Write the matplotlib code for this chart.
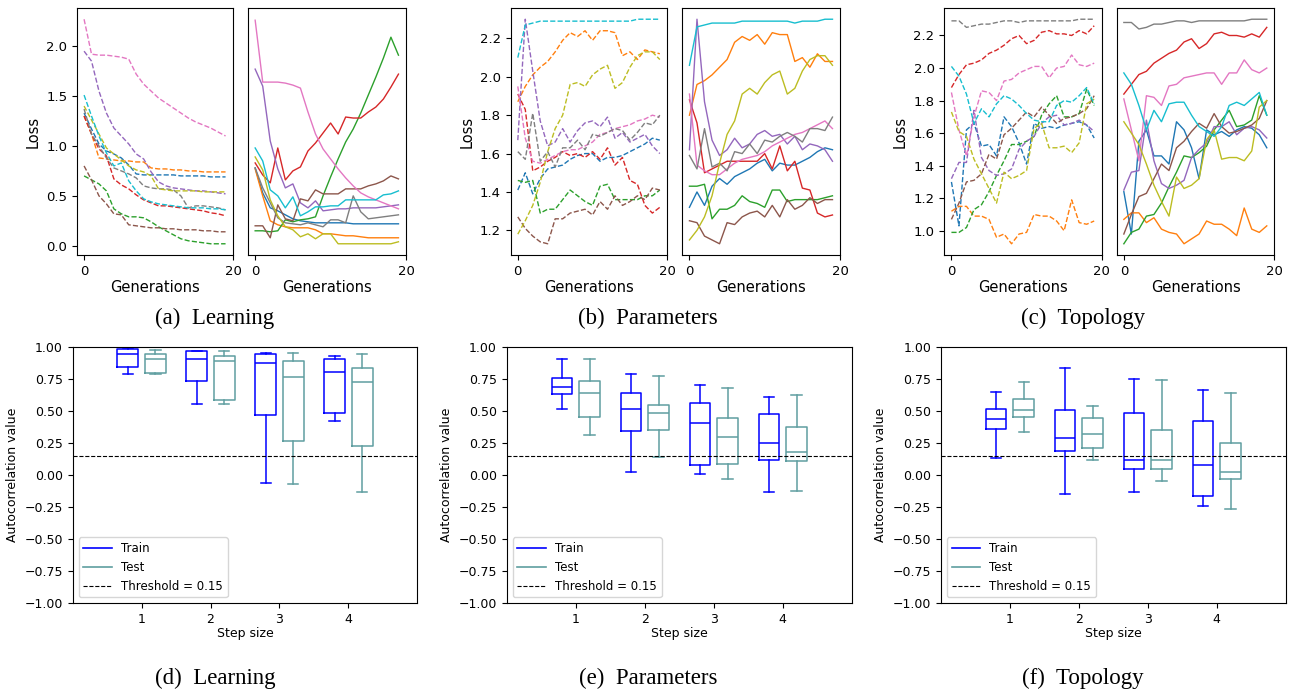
import matplotlib
matplotlib.use("Agg")
import matplotlib.pyplot as plt
from matplotlib.lines import Line2D
import numpy as np

# ---------------- data: top row (loss per generation, 10 runs each) ----------------
generations = list(range(20))
run_colors = ["C0", "C1", "C2", "C3", "C4", "C5", "C6", "C7", "C8", "C9"]

learning_dashed = [
    [1.33,1.17,1.02,0.95,0.92,0.88,0.81,0.72,0.71,0.71,0.71,0.71,0.71,0.70,0.70,0.70,0.70,0.69,0.69,0.69],
    [1.30,1.12,0.88,0.87,0.86,0.85,0.85,0.84,0.84,0.78,0.77,0.77,0.76,0.76,0.75,0.75,0.74,0.74,0.74,0.74],
    [0.70,0.66,0.62,0.55,0.37,0.32,0.29,0.29,0.28,0.24,0.19,0.15,0.11,0.07,0.05,0.04,0.03,0.02,0.02,0.02],
    [1.30,1.12,0.97,0.90,0.67,0.61,0.57,0.51,0.46,0.43,0.40,0.40,0.39,0.38,0.37,0.36,0.35,0.33,0.32,0.30],
    [1.95,1.85,1.55,1.33,1.18,1.10,1.02,0.92,0.87,0.74,0.64,0.60,0.58,0.57,0.56,0.55,0.55,0.54,0.53,0.52],
    [0.80,0.66,0.50,0.42,0.32,0.31,0.21,0.20,0.19,0.18,0.18,0.17,0.17,0.16,0.16,0.16,0.15,0.15,0.14,0.14],
    [2.27,1.92,1.91,1.91,1.90,1.89,1.87,1.72,1.62,1.55,1.48,1.43,1.38,1.33,1.28,1.24,1.21,1.18,1.14,1.10],
    [1.37,1.12,1.00,0.88,0.78,0.75,0.72,0.68,0.60,0.58,0.57,0.57,0.56,0.50,0.38,0.40,0.40,0.39,0.38,0.36],
    [1.40,1.26,1.12,0.98,0.92,0.86,0.80,0.76,0.74,0.70,0.57,0.56,0.55,0.55,0.55,0.55,0.54,0.54,0.54,0.54],
    [1.51,1.30,1.10,0.93,0.80,0.83,0.65,0.55,0.47,0.44,0.42,0.41,0.40,0.39,0.38,0.38,0.38,0.37,0.37,0.36],
]
learning_solid = [
    [0.78,0.53,0.38,0.35,0.31,0.27,0.25,0.24,0.23,0.23,0.23,0.23,0.23,0.22,0.22,0.22,0.22,0.22,0.22,0.22],
    [0.77,0.50,0.25,0.21,0.19,0.18,0.18,0.18,0.16,0.12,0.12,0.11,0.10,0.10,0.09,0.08,0.08,0.08,0.08,0.08],
    [0.15,0.15,0.14,0.15,0.26,0.24,0.26,0.27,0.29,0.50,0.69,0.87,1.04,1.17,1.33,1.51,1.69,1.88,2.09,1.91],
    [0.83,0.71,0.63,0.98,0.66,0.75,0.79,0.95,1.03,1.13,1.23,1.12,1.29,1.28,1.28,1.34,1.39,1.47,1.59,1.72],
    [1.77,1.60,1.05,0.77,0.58,0.62,0.43,0.38,0.45,0.35,0.36,0.37,0.37,0.38,0.38,0.38,0.38,0.39,0.40,0.41],
    [0.20,0.20,0.08,0.41,0.27,0.25,0.47,0.45,0.56,0.52,0.52,0.52,0.57,0.57,0.57,0.60,0.62,0.65,0.70,0.67],
    [2.26,1.64,1.64,1.64,1.63,1.61,1.58,1.34,1.12,0.97,0.87,0.77,0.68,0.60,0.53,0.49,0.46,0.43,0.40,0.37],
    [0.78,0.58,0.43,0.28,0.23,0.22,0.21,0.23,0.21,0.19,0.26,0.26,0.23,0.50,0.34,0.27,0.28,0.29,0.30,0.31],
    [0.89,0.76,0.46,0.30,0.19,0.16,0.09,0.12,0.07,0.12,0.12,0.02,0.02,0.02,0.02,0.02,0.02,0.02,0.02,0.04],
    [0.98,0.85,0.56,0.50,0.38,0.49,0.30,0.34,0.39,0.39,0.40,0.40,0.46,0.46,0.46,0.46,0.46,0.51,0.52,0.55],
]
parameters_dashed = [
    [1.41,1.50,1.39,1.47,1.52,1.53,1.54,1.57,1.59,1.60,1.60,1.56,1.58,1.58,1.59,1.61,1.63,1.65,1.68,1.67],
    [1.87,1.95,2.01,2.05,2.08,2.13,2.19,2.23,2.21,2.24,2.19,2.24,2.24,2.23,2.11,2.13,2.09,2.14,2.13,2.12],
    [1.46,1.45,1.46,1.29,1.31,1.31,1.36,1.41,1.38,1.35,1.33,1.43,1.44,1.36,1.36,1.36,1.36,1.38,1.38,1.41],
    [1.91,1.83,1.51,1.53,1.56,1.58,1.61,1.59,1.60,1.58,1.61,1.57,1.63,1.54,1.58,1.46,1.44,1.33,1.29,1.32],
    [1.67,2.30,2.03,1.77,1.64,1.66,1.73,1.66,1.72,1.76,1.77,1.74,1.79,1.68,1.71,1.66,1.68,1.70,1.64,1.60],
    [1.27,1.21,1.17,1.14,1.13,1.26,1.26,1.29,1.30,1.31,1.28,1.35,1.31,1.38,1.33,1.35,1.38,1.36,1.42,1.41],
    [1.95,1.68,1.56,1.55,1.57,1.59,1.61,1.62,1.62,1.64,1.66,1.70,1.71,1.73,1.74,1.75,1.77,1.78,1.80,1.79],
    [1.61,1.57,1.81,1.56,1.61,1.53,1.63,1.63,1.67,1.62,1.70,1.69,1.71,1.73,1.72,1.67,1.71,1.76,1.75,1.80],
    [1.18,1.25,1.33,1.45,1.61,1.73,1.80,1.96,1.97,1.95,2.01,2.04,2.06,1.94,1.97,2.05,2.11,2.13,2.13,2.09],
    [2.10,2.27,2.28,2.29,2.29,2.29,2.29,2.29,2.29,2.29,2.29,2.29,2.29,2.29,2.29,2.29,2.30,2.30,2.30,2.30],
]
parameters_solid = [
    [1.32,1.40,1.33,1.43,1.47,1.44,1.48,1.50,1.52,1.55,1.57,1.51,1.55,1.54,1.54,1.56,1.58,1.61,1.63,1.62],
    [1.80,1.96,1.98,2.01,2.05,2.09,2.18,2.21,2.19,2.22,2.17,2.23,2.22,2.22,2.08,2.10,2.05,2.12,2.08,2.08],
    [1.43,1.43,1.44,1.26,1.31,1.31,1.33,1.38,1.35,1.34,1.32,1.41,1.41,1.35,1.36,1.36,1.36,1.36,1.37,1.38],
    [1.88,1.76,1.50,1.52,1.54,1.56,1.56,1.56,1.56,1.56,1.60,1.52,1.64,1.51,1.56,1.42,1.41,1.29,1.27,1.28],
    [1.62,2.30,1.87,1.67,1.59,1.62,1.68,1.63,1.65,1.70,1.72,1.69,1.70,1.65,1.69,1.62,1.65,1.64,1.62,1.56],
    [1.25,1.24,1.17,1.15,1.13,1.24,1.23,1.27,1.29,1.30,1.27,1.33,1.27,1.36,1.31,1.33,1.37,1.34,1.36,1.36],
    [1.91,1.54,1.51,1.49,1.49,1.52,1.55,1.57,1.58,1.59,1.61,1.64,1.66,1.68,1.70,1.71,1.73,1.75,1.77,1.73],
    [1.59,1.52,1.73,1.53,1.55,1.51,1.61,1.60,1.65,1.60,1.67,1.66,1.69,1.71,1.69,1.66,1.73,1.73,1.72,1.79],
    [1.15,1.20,1.27,1.38,1.55,1.70,1.77,1.91,1.94,1.91,1.97,2.01,2.03,1.91,1.94,2.03,2.09,2.11,2.11,2.06],
    [2.06,2.26,2.27,2.28,2.28,2.28,2.28,2.29,2.29,2.29,2.29,2.29,2.29,2.29,2.28,2.29,2.29,2.29,2.30,2.30],
]
topology_dashed = [
    [1.30,1.03,1.62,1.66,1.52,1.53,1.46,1.70,1.64,1.54,1.41,1.66,1.63,1.64,1.63,1.65,1.66,1.67,1.65,1.57],
    [1.12,1.15,1.15,1.09,1.09,1.07,0.96,0.98,0.92,0.98,0.99,1.10,1.09,1.09,1.06,1.00,1.19,1.05,1.04,1.06],
    [0.99,0.99,1.02,1.13,1.16,1.24,1.34,1.43,1.53,1.53,1.55,1.58,1.71,1.78,1.83,1.70,1.70,1.72,1.87,1.77],
    [1.88,1.96,2.02,2.03,2.05,2.09,2.11,2.14,2.18,2.20,2.15,2.17,2.22,2.23,2.21,2.21,2.20,2.23,2.21,2.26],
    [1.32,1.42,1.42,1.74,1.45,1.37,1.34,1.35,1.38,1.50,1.55,1.58,1.66,1.70,1.71,1.65,1.66,1.68,1.65,1.61],
    [1.07,1.17,1.30,1.31,1.35,1.47,1.44,1.59,1.63,1.68,1.73,1.70,1.76,1.71,1.66,1.69,1.70,1.72,1.75,1.83],
    [1.85,1.62,1.46,1.70,1.86,1.85,1.80,1.92,1.93,1.97,1.99,2.01,2.01,1.94,2.00,2.01,2.08,2.02,2.01,2.03],
    [2.29,2.29,2.25,2.26,2.27,2.27,2.28,2.29,2.29,2.28,2.29,2.29,2.29,2.29,2.29,2.29,2.29,2.30,2.30,2.30],
    [1.73,1.61,1.58,1.44,1.35,1.26,1.17,1.36,1.32,1.34,1.37,1.63,1.66,1.51,1.51,1.52,1.48,1.54,1.78,1.81],
    [2.01,1.95,1.84,1.66,1.75,1.70,1.78,1.83,1.81,1.77,1.72,1.68,1.67,1.67,1.77,1.80,1.79,1.83,1.88,1.78],
]
topology_solid = [
    [1.24,0.98,1.55,1.62,1.46,1.46,1.41,1.67,1.62,1.51,1.32,1.62,1.59,1.61,1.58,1.62,1.64,1.63,1.59,1.51],
    [1.07,1.11,1.11,1.05,1.08,1.01,0.99,0.98,0.92,0.95,0.98,1.06,1.04,1.04,1.01,0.97,1.14,1.01,0.99,1.03],
    [0.92,0.99,1.01,1.09,1.10,1.17,1.27,1.36,1.46,1.45,1.48,1.52,1.62,1.68,1.74,1.64,1.65,1.68,1.83,1.71],
    [1.84,1.90,1.96,1.98,2.03,2.06,2.09,2.11,2.16,2.18,2.12,2.15,2.21,2.22,2.20,2.20,2.19,2.21,2.19,2.25],
    [1.25,1.36,1.37,1.68,1.43,1.29,1.26,1.28,1.31,1.45,1.50,1.54,1.64,1.64,1.67,1.59,1.63,1.64,1.62,1.57],
    [0.98,1.10,1.21,1.23,1.32,1.41,1.37,1.51,1.55,1.61,1.66,1.63,1.72,1.64,1.60,1.61,1.63,1.65,1.69,1.80],
    [1.81,1.62,1.43,1.83,1.82,1.77,1.89,1.90,1.94,1.95,1.96,1.97,1.97,1.90,1.97,1.97,2.05,1.99,1.97,2.00],
    [2.28,2.28,2.24,2.25,2.27,2.27,2.28,2.29,2.29,2.28,2.29,2.29,2.29,2.29,2.29,2.29,2.29,2.30,2.30,2.30],
    [1.67,1.60,1.53,1.41,1.28,1.18,1.09,1.33,1.26,1.28,1.32,1.56,1.62,1.44,1.45,1.45,1.43,1.49,1.76,1.80],
    [1.97,1.90,1.77,1.62,1.74,1.67,1.78,1.79,1.79,1.71,1.64,1.61,1.58,1.64,1.77,1.79,1.77,1.81,1.85,1.71],
]

# ---------------- data: bottom row (autocorrelation box statistics) ----------------
step_sizes = [1, 2, 3, 4]
threshold = 0.15

learning_train_med = [0.95, 0.91, 0.875, 0.81]
learning_train_q1 = [0.85, 0.74, 0.47, 0.49]
learning_train_q3 = [0.99, 0.97, 0.945, 0.906]
learning_train_lo = [0.79, 0.555, -0.06, 0.424]
learning_train_hi = [0.995, 0.975, 0.953, 0.935]
learning_test_med = [0.91, 0.89, 0.77, 0.727]
learning_test_q1 = [0.80, 0.59, 0.266, 0.232]
learning_test_q3 = [0.95, 0.93, 0.89, 0.84]
learning_test_lo = [0.79, 0.555, -0.068, -0.13]
learning_test_hi = [0.98, 0.97, 0.956, 0.945]

parameters_train_med = [0.69, 0.52, 0.406, 0.253]
parameters_train_q1 = [0.633, 0.349, 0.078, 0.12]
parameters_train_q3 = [0.758, 0.646, 0.565, 0.479]
parameters_train_lo = [0.518, 0.029, 0.010, -0.13]
parameters_train_hi = [0.91, 0.794, 0.708, 0.609]
parameters_test_med = [0.64, 0.484, 0.297, 0.185]
parameters_test_q1 = [0.458, 0.357, 0.091, 0.112]
parameters_test_q3 = [0.734, 0.55, 0.448, 0.375]
parameters_test_lo = [0.318, 0.14, -0.026, -0.125]
parameters_test_hi = [0.91, 0.773, 0.68, 0.63]

topology_train_med = [0.44, 0.289, 0.122, 0.081]
topology_train_q1 = [0.362, 0.188, 0.047, -0.161]
topology_train_q3 = [0.516, 0.513, 0.49, 0.422]
topology_train_lo = [0.133, -0.148, -0.13, -0.242]
topology_train_hi = [0.648, 0.836, 0.755, 0.669]
topology_test_med = [0.513, 0.326, 0.122, 0.023]
topology_test_q1 = [0.453, 0.211, 0.047, -0.031]
topology_test_q3 = [0.599, 0.45, 0.354, 0.255]
topology_test_lo = [0.339, 0.117, -0.044, -0.266]
topology_test_hi = [0.727, 0.542, 0.747, 0.646]

captions_top = ["(a)  Learning", "(b)  Parameters", "(c)  Topology"]
captions_bottom = ["(d)  Learning", "(e)  Parameters", "(f)  Topology"]

# ---------------- figure ----------------
W, H = 1291, 693
fig = plt.figure(figsize=(W / 100, H / 100), dpi=100)

def frac(x0, x1, y0, y1):
    return [x0 / W, 1 - y1 / H, (x1 - x0) / W, (y1 - y0) / H]

top_boxes = [
    ((77, 233), (248, 406)),
    ((510.7, 667.3), (682.3, 840)),
    ((944.3, 1101.7), (1116.7, 1274.3)),
]
top_data = [
    (learning_dashed, learning_solid),
    (parameters_dashed, parameters_solid),
    (topology_dashed, topology_solid),
]

for (lbox, rbox), (dashed, solid) in zip(top_boxes, top_data):
    axl = fig.add_axes(frac(lbox[0], lbox[1], 8, 255))
    axr = fig.add_axes(frac(rbox[0], rbox[1], 8, 255), sharey=axl)
    for series, c in zip(dashed, run_colors):
        axl.plot(generations, series, ls="--", color=c, lw=1.0)
    for series, c in zip(solid, run_colors):
        axr.plot(generations, series, ls="-", color=c, lw=1.0)
    for ax in (axl, axr):
        ax.set_xlim(-0.95, 20)
        ax.set_xticks([0, 20])
        ax.set_xlabel("Generations", fontsize=10.5, labelpad=2)
        ax.tick_params(labelsize=9.5)
    axl.set_ylabel("Loss", fontsize=10.5)
    axr.tick_params(axis="y", left=False, labelleft=False)

bottom_boxes = [(72.7, 417.3), (506.7, 851.7), (941, 1285.7)]
bottom_stats = [
    (learning_train_med, learning_train_q1, learning_train_q3, learning_train_lo, learning_train_hi,
     learning_test_med, learning_test_q1, learning_test_q3, learning_test_lo, learning_test_hi),
    (parameters_train_med, parameters_train_q1, parameters_train_q3, parameters_train_lo, parameters_train_hi,
     parameters_test_med, parameters_test_q1, parameters_test_q3, parameters_test_lo, parameters_test_hi),
    (topology_train_med, topology_train_q1, topology_train_q3, topology_train_lo, topology_train_hi,
     topology_test_med, topology_test_q1, topology_test_q3, topology_test_lo, topology_test_hi),
]

train_color = "blue"
test_color = "cadetblue"

def make_stats(med, q1, q3, lo, hi):
    return [dict(med=m, q1=a, q3=b, whislo=l, whishi=h, fliers=[])
            for m, a, b, l, h in zip(med, q1, q3, lo, hi)]

for (x0, x1), st in zip(bottom_boxes, bottom_stats):
    ax = fig.add_axes(frac(x0, x1, 347.3, 603.3))
    tr = make_stats(*st[:5])
    te = make_stats(*st[5:])
    pos = np.array(step_sizes, dtype=float)
    for stats, p, col in ((tr, pos - 0.2, train_color), (te, pos + 0.2, test_color)):
        props = dict(color=col, linewidth=1.1)
        ax.bxp(stats, positions=p, widths=0.3, showfliers=False,
               boxprops=props, whiskerprops=props, capprops=props,
               medianprops=props, manage_ticks=False)
    ax.axhline(threshold, color="black", ls="--", lw=0.8)
    ax.set_xlim(0, 5)
    ax.set_ylim(-1, 1)
    ax.set_xticks(step_sizes)
    ax.set_xticklabels([str(s) for s in step_sizes])
    ax.set_yticks(np.arange(-1, 1.01, 0.25))
    ax.set_yticklabels([f"{v:.2f}".replace("-", "\u2212") for v in np.arange(-1, 1.01, 0.25)])
    ax.tick_params(labelsize=9)
    ax.set_xlabel("Step size", fontsize=9, labelpad=1)
    ax.set_ylabel("Autocorrelation value", fontsize=9)
    handles = [Line2D([], [], color=train_color, lw=1.2),
               Line2D([], [], color=test_color, lw=1.2),
               Line2D([], [], color="black", ls="--", lw=0.8)]
    ax.legend(handles, ["Train", "Test", "Threshold = " + str(threshold)],
              loc="lower left", fontsize=8.5, handlelength=2.4)

serif = ["Liberation Serif", "DejaVu Serif"]
for cap, xc in zip(captions_top, [215, 648, 1083]):
    fig.text(xc / W, 1 - 318 / H, cap, ha="center", va="center", family=serif, fontsize=16.5)
for cap, xc in zip(captions_bottom, [215, 648, 1083]):
    fig.text(xc / W, 1 - 678 / H, cap, ha="center", va="center", family=serif, fontsize=16.5)

fig.savefig("out.png", dpi=100)
